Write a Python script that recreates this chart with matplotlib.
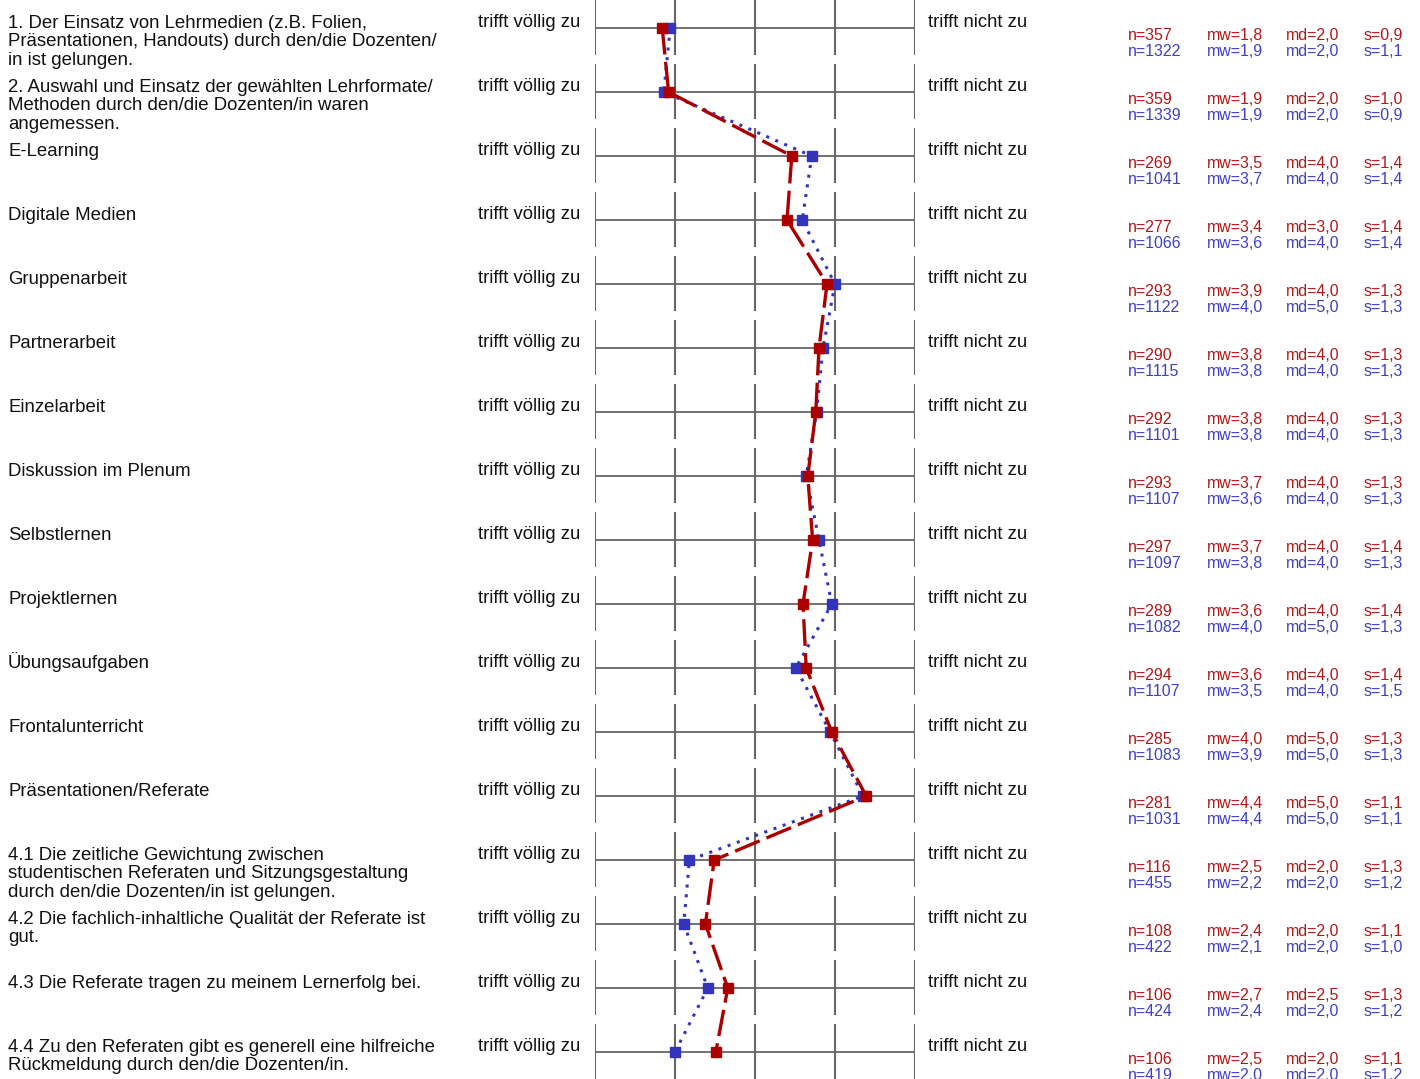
import matplotlib.pyplot as plt
from matplotlib.transforms import blended_transform_factory

plt.rcParams['font.family'] = ['Liberation Sans', 'DejaVu Sans']

# questions (one row each)
labels = [
    "1. Der Einsatz von Lehrmedien (z.B. Folien,\nPräsentationen, Handouts) durch den/die Dozenten/\nin ist gelungen.",
    "2. Auswahl und Einsatz der gewählten Lehrformate/\nMethoden durch den/die Dozenten/in waren\nangemessen.",
    "E-Learning",
    "Digitale Medien",
    "Gruppenarbeit",
    "Partnerarbeit",
    "Einzelarbeit",
    "Diskussion im Plenum",
    "Selbstlernen",
    "Projektlernen",
    "Übungsaufgaben",
    "Frontalunterricht",
    "Präsentationen/Referate",
    "4.1 Die zeitliche Gewichtung zwischen\nstudentischen Referaten und Sitzungsgestaltung\ndurch den/die Dozenten/in ist gelungen.",
    "4.2 Die fachlich-inhaltliche Qualität der Referate ist\ngut.",
    "4.3 Die Referate tragen zu meinem Lernerfolg bei.",
    "4.4 Zu den Referaten gibt es generell eine hilfreiche\nRückmeldung durch den/die Dozenten/in.",
]
left_pole = "trifft völlig zu"
right_pole = "trifft nicht zu"

# mean values (position of the markers), red = course, blue = comparison
mean_red = [1.84, 1.92, 3.46, 3.40, 3.90, 3.80, 3.76, 3.66, 3.72, 3.60, 3.64, 3.96, 4.39,
            2.49, 2.38, 2.66, 2.51]
mean_blue = [1.94, 1.86, 3.71, 3.59, 4.00, 3.85, 3.77, 3.64, 3.80, 3.96, 3.51, 3.94, 4.35,
             2.18, 2.11, 2.41, 2.00]

# statistics shown on the right
n_red = [357, 359, 269, 277, 293, 290, 292, 293, 297, 289, 294, 285, 281, 116, 108, 106, 106]
n_blue = [1322, 1339, 1041, 1066, 1122, 1115, 1101, 1107, 1097, 1082, 1107, 1083, 1031, 455, 422, 424, 419]
mw_red = ["1,8", "1,9", "3,5", "3,4", "3,9", "3,8", "3,8", "3,7", "3,7", "3,6", "3,6", "4,0", "4,4",
          "2,5", "2,4", "2,7", "2,5"]
mw_blue = ["1,9", "1,9", "3,7", "3,6", "4,0", "3,8", "3,8", "3,6", "3,8", "4,0", "3,5", "3,9", "4,4",
           "2,2", "2,1", "2,4", "2,0"]
md_red = ["2,0", "2,0", "4,0", "3,0", "4,0", "4,0", "4,0", "4,0", "4,0", "4,0", "4,0", "5,0", "5,0",
          "2,0", "2,0", "2,5", "2,0"]
md_blue = ["2,0", "2,0", "4,0", "4,0", "5,0", "4,0", "4,0", "4,0", "4,0", "5,0", "4,0", "5,0", "5,0",
           "2,0", "2,0", "2,0", "2,0"]
s_red = ["0,9", "1,0", "1,4", "1,4", "1,3", "1,3", "1,3", "1,3", "1,4", "1,4", "1,4", "1,3", "1,1",
         "1,3", "1,1", "1,3", "1,1"]
s_blue = ["1,1", "0,9", "1,4", "1,4", "1,3", "1,3", "1,3", "1,3", "1,3", "1,3", "1,5", "1,3", "1,1",
          "1,2", "1,0", "1,2", "1,2"]

RED = '#aa0000'
BLUE = '#3333bb'
RED_TXT = '#b01818'
BLUE_TXT = '#4040c0'
GRID = '#666666'

W, H = 1420, 1079
fig = plt.figure(figsize=(W / 100, H / 100), dpi=100)
ax = fig.add_axes([595 / W, 0, 320 / W, 1])
rows = list(range(len(labels)))
ax.set_xlim(1, 5)
ax.set_ylim((H - 28) / 64, -28 / 64)
ax.axis('off')

# scale grid per row
for r in rows:
    ax.hlines(r, 1, 5, color=GRID, lw=1.3)
    ax.vlines([1, 2, 3, 4, 5], r - 0.44, r + 0.42, color=GRID, lw=1.5)

ax.plot(mean_blue, rows, color=BLUE, ls=(0, (1, 2.2)), lw=2.2, marker='s', ms=7,
        mec=BLUE, mfc=BLUE, clip_on=False, zorder=3)
ax.plot(mean_red, rows, color=RED, ls=(0, (8, 2.2)), lw=2.4, marker='s', ms=7,
        mec=RED, mfc=RED, clip_on=False, zorder=4)

# text columns (x in figure pixels, y in row units)
tr = blended_transform_factory(fig.transFigure, ax.transData)
px = lambda v: v / W
off = 1 / 64.0
for r in rows:
    for i, line in enumerate(labels[r].split('\n')):
        ax.text(px(8), r + (i * 18.7 - 0.5) * off, line, transform=tr, fontsize=13.4,
                va='baseline', ha='left', color='#111111')
    ax.text(px(478), r - off, left_pole, transform=tr, fontsize=13.3, va='baseline', color='#111111')
    ax.text(px(928), r - off, right_pole, transform=tr, fontsize=13.3, va='baseline', color='#111111')
    y1 = r + 12 * off
    y2 = r + 28 * off
    ax.text(px(1128), y1, f"n={n_red[r]}", transform=tr, fontsize=11.5, color=RED_TXT, va='baseline')
    ax.text(px(1128), y2, f"n={n_blue[r]}", transform=tr, fontsize=11.5, color=BLUE_TXT, va='baseline')
    ax.text(px(1207), y1, f"mw={mw_red[r]}", transform=tr, fontsize=11.5, color=RED_TXT, va='baseline')
    ax.text(px(1207), y2, f"mw={mw_blue[r]}", transform=tr, fontsize=11.5, color=BLUE_TXT, va='baseline')
    ax.text(px(1286), y1, f"md={md_red[r]}", transform=tr, fontsize=11.5, color=RED_TXT, va='baseline')
    ax.text(px(1286), y2, f"md={md_blue[r]}", transform=tr, fontsize=11.5, color=BLUE_TXT, va='baseline')
    ax.text(px(1364), y1, f"s={s_red[r]}", transform=tr, fontsize=11.5, color=RED_TXT, va='baseline')
    ax.text(px(1364), y2, f"s={s_blue[r]}", transform=tr, fontsize=11.5, color=BLUE_TXT, va='baseline')

fig.savefig('out.png', dpi=100)
